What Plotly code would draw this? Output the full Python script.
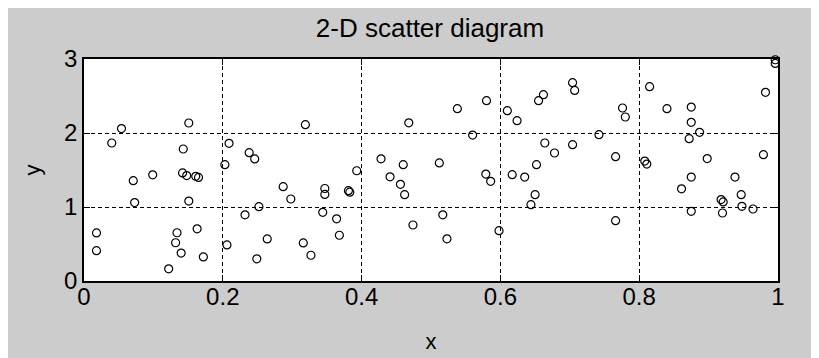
import plotly.graph_objects as go

x_vals = [
    0.018, 0.018, 0.040, 0.054, 0.071, 0.073, 0.099, 0.151, 0.143,
    0.142, 0.148, 0.161, 0.165,
    0.151, 0.163, 0.134, 0.132, 0.140, 0.172, 0.122,
    0.209, 0.203, 0.206, 0.238, 0.246, 0.252, 0.249, 0.232,
    0.319, 0.287, 0.298, 0.264, 0.316, 0.327, 0.347, 0.347, 0.381, 0.383,
    0.393, 0.344, 0.364, 0.368, 0.428, 0.460, 0.468, 0.441, 0.456, 0.462, 0.474,
    0.512, 0.538, 0.560, 0.580, 0.610, 0.624, 0.579, 0.586, 0.617, 0.635,
    0.652, 0.650, 0.644, 0.517, 0.523, 0.598, 0.655, 0.662, 0.704, 0.707,
    0.664, 0.678, 0.704, 0.742,
    0.766, 0.766, 0.776, 0.780, 0.815, 0.808, 0.811, 0.840, 0.875, 0.875,
    0.887, 0.872, 0.898, 0.875, 0.861, 0.875, 0.938, 0.947, 0.918, 0.921,
    0.920, 0.948, 0.964, 0.979, 0.982, 0.996, 0.996,
]
y_vals = [
    0.650, 0.410, 1.865, 2.060, 1.356, 1.060, 1.435, 2.135, 1.784,
    1.460, 1.425, 1.414, 1.400,
    1.080, 0.705, 0.652, 0.517, 0.378, 0.326, 0.165,
    1.860, 1.572, 0.488, 1.734, 1.650, 1.005, 0.300, 0.894,
    2.113, 1.275, 1.108, 0.568, 0.514, 0.348, 1.250, 1.170, 1.220, 1.200,
    1.490, 0.928, 0.840, 0.618, 1.651, 1.572, 2.137, 1.408, 1.306, 1.167, 0.757,
    1.595, 2.329, 1.972, 2.437, 2.302, 2.167, 1.445, 1.347, 1.437, 1.405,
    1.572, 1.167, 1.032, 0.894, 0.570, 0.680, 2.437, 2.518, 2.680, 2.575,
    1.865, 1.730, 1.842, 1.977,
    1.680, 0.815, 2.338, 2.216, 2.626, 1.620, 1.580, 2.329, 2.351, 2.144,
    2.009, 1.923, 1.655, 1.405, 1.246, 0.941, 1.405, 1.167, 1.100, 1.068,
    0.919, 1.009, 0.973, 1.707, 2.550, 2.990, 2.940,
]

x_ticks = [0, 0.2, 0.4, 0.6, 0.8, 1]
x_tick_text = ["0", "0.2", "0.4", "0.6", "0.8", "1"]
y_ticks = [0, 1, 2, 3]
y_tick_text = ["0", "1", "2", "3"]

FONT = "Liberation Sans, Arial, sans-serif"
GRAY = "#cccccc"

fig = go.Figure()
fig.add_trace(go.Scatter(
    x=x_vals, y=y_vals, mode="markers", cliponaxis=False,
    marker=dict(symbol="circle-open", size=8, color="black", line=dict(width=1.2, color="black")),
    showlegend=False, hoverinfo="skip",
))

axis_common = dict(
    showline=True, linecolor="black", linewidth=1.5, mirror="ticks",
    ticks="inside", ticklen=6, tickcolor="black", tickwidth=1,
    showgrid=True, gridcolor="black", gridwidth=1, griddash="4px,3px",
    zeroline=False, tickfont=dict(family=FONT, size=24, color="black"),
)

fig.update_xaxes(range=[0, 1], tickvals=x_ticks, ticktext=x_tick_text,
                 title=dict(text="x", font=dict(family=FONT, size=22, color="black"), standoff=25),
                 ticklabelstandoff=-7, **axis_common)
fig.update_yaxes(range=[0, 3], tickvals=y_ticks, ticktext=y_tick_text,
                 title=dict(text="y", font=dict(family=FONT, size=22, color="black"), standoff=17),
                 ticklabelstandoff=0, **axis_common)

fig.update_layout(
    width=819, height=358,
    margin=dict(l=76, r=49, t=51, b=85, pad=0),
    paper_bgcolor=GRAY, plot_bgcolor="white",
    title=dict(text="2-D scatter diagram", x=422 / 819, xanchor="center",
               y=1 - 20 / 358, yanchor="middle",
               font=dict(family=FONT, size=26, color="black")),
)

fig.write_html("out.html")
